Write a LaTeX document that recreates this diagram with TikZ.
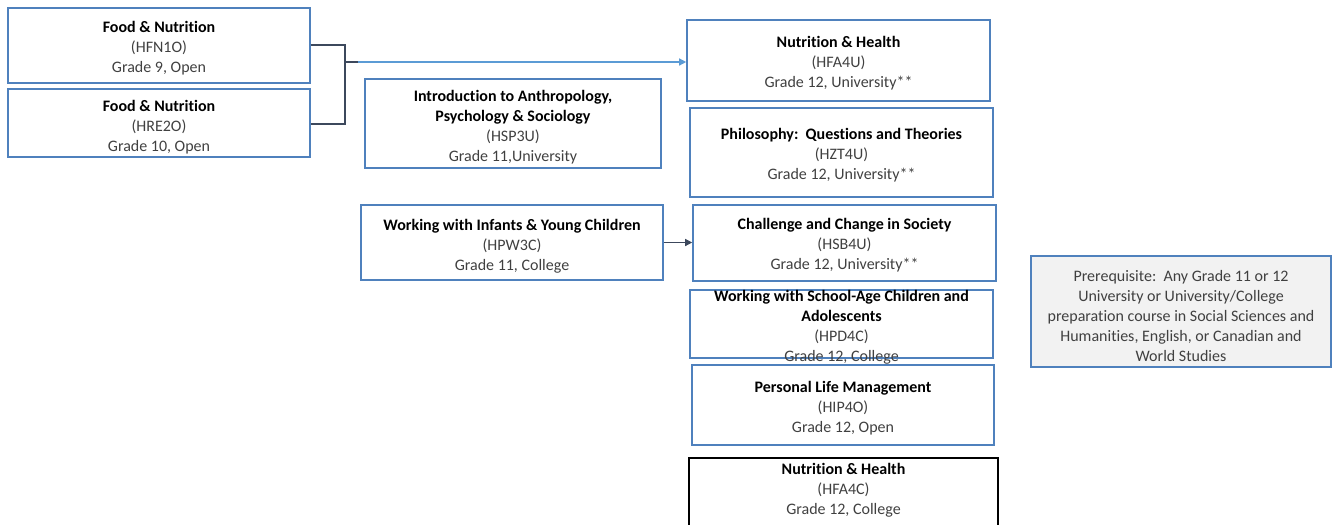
\documentclass[tikz,border=0pt]{standalone}
\usepackage{fontspec}
\setmainfont{Carlito}[Ligatures=NoCommon]
\usetikzlibrary{arrows.meta}
\definecolor{boxblue}{RGB}{79,129,189}
\definecolor{linkdark}{RGB}{60,72,92}
\definecolor{linkblue}{RGB}{91,155,213}
\definecolor{txtgray}{RGB}{64,64,64}
\definecolor{notefill}{RGB}{242,242,242}
\tikzset{
  course/.style={draw=boxblue, line width=1.6pt, inner sep=0pt},
  blackcourse/.style={draw=black, line width=1.2pt, inner sep=0pt},
  notebox/.style={draw=boxblue, fill=notefill, line width=1.6pt, inner sep=0pt},
  txt/.style={align=center, text=txtgray, font=\fontsize{16}{20}\selectfont, inner sep=0pt, yshift=-2pt},
  darklink/.style={draw=linkdark, line width=1.3pt},
  bluelink/.style={draw=linkblue, line width=1.3pt},
}
\newcommand{\ttl}[1]{\textbf{\textcolor{black}{#1}}}
\begin{document}
\begin{tikzpicture}[x=1pt,y=-1pt]
\useasboundingbox (0,0) rectangle (1334,525);
% boxes (centre, width, height)
\node[course, minimum width=302, minimum height=75] (hfn) at (159,45.5) {};
\node[course, minimum width=302, minimum height=68] (hre) at (159,123) {};
\node[course, minimum width=296, minimum height=89] (hsp) at (513,123.5) {};
\node[course, minimum width=303, minimum height=81] (hfa) at (838.5,60.5) {};
\node[course, minimum width=303, minimum height=89] (hzt) at (841.5,152.5) {};
\node[course, minimum width=302, minimum height=75] (hpw) at (512,242.5) {};
\node[course, minimum width=303, minimum height=76] (hsb) at (844.5,243) {};
\node[course, minimum width=303, minimum height=68] (hpd) at (841.5,324) {};
\node[course, minimum width=302, minimum height=80] (hip) at (843,405) {};
\node[blackcourse, minimum width=309, minimum height=80] (hfc) at (843.5,498) {};
\node[notebox, minimum width=300, minimum height=111] (pre) at (1181,311.5) {};
% texts
\node[txt] at (159,46) {\ttl{Food \& Nutrition}\\(HFN1O)\\Grade 9, Open};
\node[txt] at (159,125) {\ttl{Food \& Nutrition}\\(HRE2O)\\Grade 10, Open};
\node[txt] at (513,125) {\ttl{Introduction to Anthropology,}\\\ttl{Psychology \& Sociology}\\(HSP3U)\\Grade 11,University};
\node[txt] at (838.5,61.5) {\ttl{Nutrition \& Health}\\(HFA4U)\\Grade 12, University**};
\node[txt] at (841.5,153) {\ttl{Philosophy:\ \ Questions and Theories}\\(HZT4U)\\Grade 12, University**};
\node[txt] at (512,244) {\ttl{Working with Infants \& Young Children}\\(HPW3C)\\Grade 11, College};
\node[txt] at (844.5,243.5) {\ttl{Challenge and Change in Society}\\(HSB4U)\\Grade 12, University**};
\node[txt] at (841.5,325) {\ttl{Working with School-Age Children and}\\\ttl{Adolescents}\\(HPD4C)\\Grade 12, College};
\node[txt] at (843,406) {\ttl{Personal Life Management}\\(HIP4O)\\Grade 12, Open};
\node[txt] at (843.5,488) {\ttl{Nutrition \& Health}\\(HFA4C)\\Grade 12, College};
\node[txt] at (1181,313.5) {Prerequisite:\ \ Any Grade 11 or 12\\University or University/College\\preparation course in Social Sciences and\\Humanities, English, or Canadian and\\World Studies};
% connectors
\coordinate (bt) at (345,45);
\coordinate (bb) at (345,124);
\coordinate (bm) at (345,62);
\coordinate (bj) at (358,62);
\draw[darklink] (hfn.east |- bt) -- (bt) -- (bb) -- (hre.east |- bb);
\draw[darklink] (bm) -- (bj);
\draw[bluelink, -{Triangle[length=7pt,width=7pt]}] (bj) -- (hfa.west |- bj);
\draw[darklink, -{Triangle[length=7pt,width=7pt]}] (hpw.east) -- (hsb.west |- hpw.east);
\end{tikzpicture}
\end{document}
